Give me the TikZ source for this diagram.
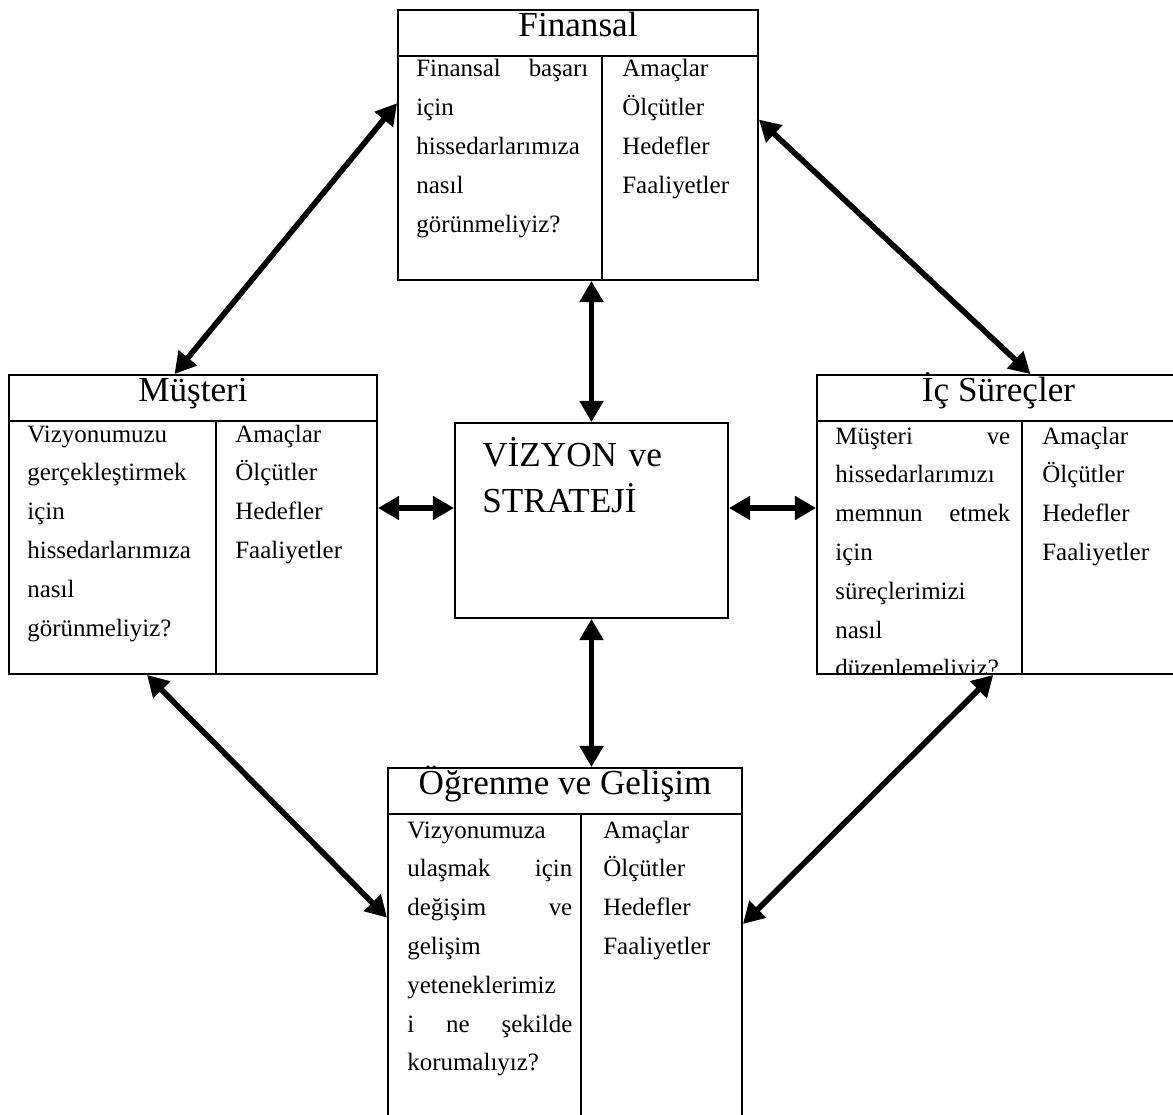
\documentclass[tikz,border=0pt]{standalone}
\usepackage{fontspec}
\setmainfont{Liberation Serif}
\usetikzlibrary{arrows.meta}

\begin{document}
\begin{tikzpicture}[
    x=0.02cm, y=-0.02cm,
    persp/.style={
        rectangle, draw, line width=1.1pt, inner sep=0pt,
    },
    hdr/.style={
        rectangle, draw, line width=1.1pt, inner sep=0pt,
        anchor=north west, minimum height=0.92cm,
        text height=14pt, text depth=10pt,
        font=\fontsize{20}{24}\selectfont,
    },
    qtext/.style={
        anchor=base west, inner sep=0pt, align=left,
        font=\fontsize{14.2}{22.1}\selectfont,
    },
    mtext/.style={
        anchor=base west, inner sep=0pt, align=left, text width=2.6cm,
        font=\fontsize{14.2}{22.1}\selectfont,
    },
    divider/.style={line width=1.1pt},
    arr/.style={{Triangle[length=12pt,width=13pt]}-{Triangle[length=12pt,width=13pt]}, line width=3.2pt},
]

\clip (0,0) rectangle (1173,1115);

% Finansal
\node[persp, minimum width=7.2cm, minimum height=5.4cm] (fin) at (578,145) {};
\node[hdr, minimum width=7.2cm] (finhdr) at (fin.north west) {Finansal};
\draw[divider] ([xshift=4.1cm]finhdr.south west) -- ([xshift=4.1cm]fin.south west);
\node[qtext, text width=3.44cm] (finq) at (416,77) {Finansal\hfill başarı\\için\\hissedarlarımıza\\nasıl\\görünmeliyiz?};
\node[mtext] (finm) at (622,77) {Amaçlar\\Ölçütler\\Hedefler\\Faaliyetler};

% Müşteri
\node[persp, minimum width=7.36cm, minimum height=5.98cm] (mus) at (193,524.5) {};
\node[hdr, minimum width=7.36cm] (mushdr) at (mus.north west) {Müşteri};
\draw[divider] ([xshift=4.16cm]mushdr.south west) -- ([xshift=4.16cm]mus.south west);
\node[qtext, text width=3.36cm] (musq) at (27,442) {Vizyonumuzu\\gerçekleştirmek\\için\\hissedarlarımıza\\nasıl\\görünmeliyiz?};
\node[mtext] (musm) at (235,442) {Amaçlar\\Ölçütler\\Hedefler\\Faaliyetler};

% İç Süreçler
\node[persp, minimum width=7.26cm, minimum height=5.98cm] (ic) at (998.5,524.5) {};
\node[hdr, minimum width=7.26cm] (ichdr) at (ic.north west) {İç Süreçler};
\draw[divider] ([xshift=4.12cm]ichdr.south west) -- ([xshift=4.12cm]ic.south west);
\begin{scope}
    \clip (ichdr.south west) rectangle ([xshift=4.12cm]ic.south west);
    \node[qtext, text width=3.5cm] (icq) at (835,444) {Müşteri\hfill ve\\hissedarlarımızı\\memnun\hfill etmek\\için\\süreçlerimizi\\nasıl\\düzenlemeliyiz?};
\end{scope}
\node[mtext] (icm) at (1042,444) {Amaçlar\\Ölçütler\\Hedefler\\Faaliyetler};

% Öğrenme ve Gelişim
\node[persp, minimum width=7.08cm, minimum height=7.24cm] (ogr) at (565,949) {};
\node[hdr, minimum width=7.08cm] (ogrhdr) at (ogr.north west) {Öğrenme ve Gelişim};
\draw[divider] ([xshift=3.88cm]ogrhdr.south west) -- ([xshift=3.88cm]ogr.south west);
\node[qtext, text width=3.3cm] (ogrq) at (407,838) {Vizyonumuza\\ulaşmak\hfill için\\değişim\hfill ve\\gelişim\\yeteneklerimiz\\i\hfill ne\hfill şekilde\\korumalıyız?};
\node[mtext] (ogrm) at (603,838) {Amaçlar\\Ölçütler\\Hedefler\\Faaliyetler};

% Vizyon
\node[persp, minimum width=5.46cm, minimum height=3.9cm] (viz) at (591.5,520.5) {};
\node[anchor=base west, inner sep=0pt, align=left, text width=4.5cm, font=\fontsize{20}{26.7}\selectfont] (vizt) at (482,466) {VİZYON ve\\STRATEJİ};

% Arrows
\draw[arr] (viz.north |- fin.south) -- (viz.north);
\draw[arr] (viz.south) -- (viz.south |- ogr.north);
\draw[arr] ([yshift=0.33cm]mus.east) -- ([yshift=0.25cm]viz.west);
\draw[arr] ([yshift=0.25cm]viz.east) -- ([yshift=0.33cm]ic.west);
\draw[arr] (fin.167.5) -- (mus.97.6);
\draw[arr] (fin.8.8) -- (ic.78.1);
\draw[arr] (mus.253.25) -- (ogr.170.7);
\draw[arr] (ic.268.66) -- (ogr.8.7);

\end{tikzpicture}
\end{document}
